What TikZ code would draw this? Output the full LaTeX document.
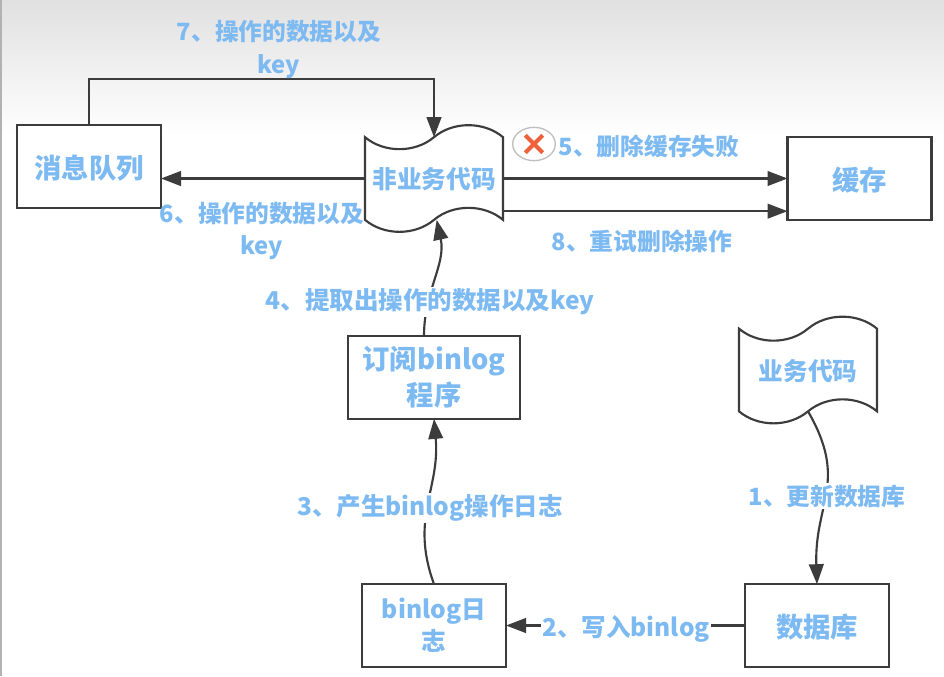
\documentclass[tikz,border=0pt]{standalone}
\usepackage{fontspec}
\setmainfont{Noto Sans CJK SC}
\usepackage{tikz}
\usetikzlibrary{arrows.meta, shapes.symbols, shapes.misc, shapes.geometric}
\definecolor{textblue}{HTML}{7DBAF2}
\definecolor{linegray}{HTML}{3C3C3C}
\definecolor{crossred}{HTML}{F0603A}
\tikzset{
	boxnode/.style={
			draw=linegray,
			fill=white,
			line width=1.6pt,
			minimum width=108pt,
			minimum height=62pt,
			inner sep=0pt,
			outer sep=0pt,
			align=center,
			text=textblue,
			font=\fontsize{20.5}{27}\selectfont\bfseries
		},
	tapenode/.style={
			tape,
			draw=linegray,
			fill=white,
			line width=1.6pt,
			minimum width=103.5pt,
			minimum height=80pt,
			inner sep=0pt,
			outer sep=0pt,
			tape bend top=in and out,
			tape bend bottom=in and out,
			tape bend height=18pt,
			text height=19pt,
			text depth=4pt,
			text=textblue,
			font=\fontsize{18.5}{24}\selectfont\bfseries
		},
	oneline/.style={
			text height=22pt,
			text depth=4pt
		},
	steplabel/.style={
			fill=white,
			inner sep=1pt,
			align=center,
			text=textblue,
			font=\fontsize{17.8}{24.5}\selectfont\bfseries
		},
	latinlabel/.style={
			steplabel,
			font=\fontsize{18.4}{24.5}\selectfont\bfseries
		},
	flow/.style={
			draw=linegray,
			line width=1.6pt,
			-{Triangle[length=15pt, width=11pt]}
		}
}
\begin{document}
\begin{tikzpicture}[x=0.75pt, y=-0.75pt]
	\useasboundingbox (0, 0) rectangle (944, 676);
	\fill[white] (0, 0) rectangle (944, 676);
	\shade[top color=black!12, bottom color=white] (0, 0) rectangle (944, 135);
	\fill[black!30] (0, 0) rectangle (2, 676);

	\node[boxnode, oneline] (queue) at (89, 166.5) {消息队列};
	\node[tapenode] (worker) at (434, 178.5) {非业务代码};
	\node[boxnode, oneline] (cache) at (859.5, 178.5) {缓存};
	\node[boxnode, minimum width=129pt] (subscriber) at (434, 377.5) {订阅binlog\\程序};
	\node[tapenode] (service) at (808, 370) {业务代码};
	\node[boxnode, font=\fontsize{18.5}{24}\selectfont\bfseries] (binlog) at (434, 625.5) {binlog日\\志};
	\node[boxnode, oneline] (database) at (817, 625.5) {数据库};

	\draw[flow] (queue.north) -- (89, 79) -| (worker.north);
	\draw[flow] (worker.west) -- (worker.west -| queue.east);
	\draw[flow] (worker.east) -- (cache.west);
	\draw[flow] ([yshift=-24.5pt]worker.east) -- ([yshift=-24.5pt]cache.west);
	\draw[flow] ([xshift=-7.5pt]subscriber.north) to[out=90, in=-78, looseness=1] ([xshift=2pt]worker.south);
	\draw[flow] (binlog.north) to[out=110, in=-85, looseness=1.1] (subscriber.south);
	\draw[flow] (service.south) to[out=-60, in=92, looseness=1.2] (database.north);
	\draw[flow] (database.west) -- (binlog.east);

	\node[steplabel, fill=none] (label7) at (279, 49.5) {7、操作的数据以及\\key};
	\node[steplabel, fill=none] (label6) at (262, 231) {6、操作的数据以及\\key};
	\node[latinlabel] (label4) at (430, 302) {4、提取出操作的数据以及key};
	\node[latinlabel] (label3) at (430, 508) {3、产生binlog操作日志};
	\node[steplabel] (label1) at (827, 496) {1、更新数据库};
	\node[latinlabel] (label2) at (626, 629) {2、写入binlog};
	\node[steplabel, fill=none] (label5) at (649, 146) {5、删除缓存失败};
	\node[steplabel, fill=none] (label8) at (642, 241) {8、重试删除操作};

	\node[ellipse, draw=black!25, fill=white, line width=1pt, minimum width=32pt, minimum height=25pt, inner sep=0pt] (failmark) at (534, 144) {};
	\node[cross out, draw=crossred, line width=3pt, minimum size=10pt, inner sep=0pt] (failcross) at (534, 144) {};
\end{tikzpicture}
\end{document}
